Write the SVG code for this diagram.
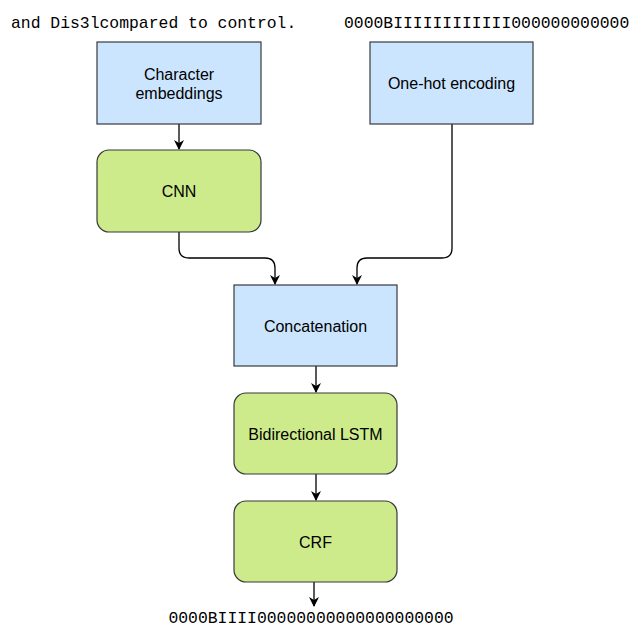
<svg xmlns="http://www.w3.org/2000/svg" width="630" height="628" viewBox="0 0 630 628">
<defs>
<marker id="ah" viewBox="0 0 10 10" refX="9" refY="5" markerWidth="10" markerHeight="10" markerUnits="userSpaceOnUse" orient="auto">
<path d="M0,0 L10,5 L0,10 L3,5 Z" fill="#000"/>
</marker>
<style>
.blue{fill:#cce5ff;stroke:#36393d;stroke-width:1.2}
.green{fill:#cdeb8b;stroke:#36393d;stroke-width:1.2}
.lbl{font-family:"Liberation Sans",Arial,sans-serif;font-size:16px;fill:#000;text-anchor:middle}
.mono{font-family:"Liberation Mono","Courier New",monospace;font-size:16.4px;fill:#000}
.edge{fill:none;stroke:#000;stroke-width:1.3;marker-end:url(#ah)}
</style>
</defs>
<rect width="630" height="628" fill="#fff"/>
<text class="mono" x="11" y="28">and Dis3lcompared to control.</text>
<text class="mono" x="344" y="28">0000BIIIIIIIIIIII000000000000</text>
<text class="mono" x="311" y="623" text-anchor="middle">0000BIIII00000000000000000000</text>
<g id="connectors">
<path class="edge" d="M179,124 V149"/>
<path class="edge" d="M179,232 V248 Q179,258 189,258 H265 Q275,258 275,268 V284"/>
<path class="edge" d="M452,124 V248 Q452,258 442,258 H367 Q357,258 357,268 V284"/>
<path class="edge" d="M316,366 V392"/>
<path class="edge" d="M316,474 V500"/>
<path class="edge" d="M314,582 V606"/>
</g>
<g id="char-emb">
<rect class="blue" x="97" y="42" width="164" height="82"/>
<text class="lbl" x="179" y="80">Character</text>
<text class="lbl" x="179" y="99">embeddings</text>
</g>
<g id="one-hot">
<rect class="blue" x="370" y="42" width="163" height="82"/>
<text class="lbl" x="451.5" y="89">One-hot encoding</text>
</g>
<g id="cnn">
<rect class="green" x="97" y="150" width="164" height="82" rx="12"/>
<text class="lbl" x="179" y="197">CNN</text>
</g>
<g id="concat">
<rect class="blue" x="234" y="285" width="163" height="81"/>
<text class="lbl" x="315.5" y="332">Concatenation</text>
</g>
<g id="bilstm">
<rect class="green" x="234" y="393" width="163" height="81" rx="12"/>
<text class="lbl" x="315.5" y="440">Bidirectional LSTM</text>
</g>
<g id="crf">
<rect class="green" x="234" y="501" width="163" height="81" rx="12"/>
<text class="lbl" x="315.5" y="548">CRF</text>
</g>
</svg>
